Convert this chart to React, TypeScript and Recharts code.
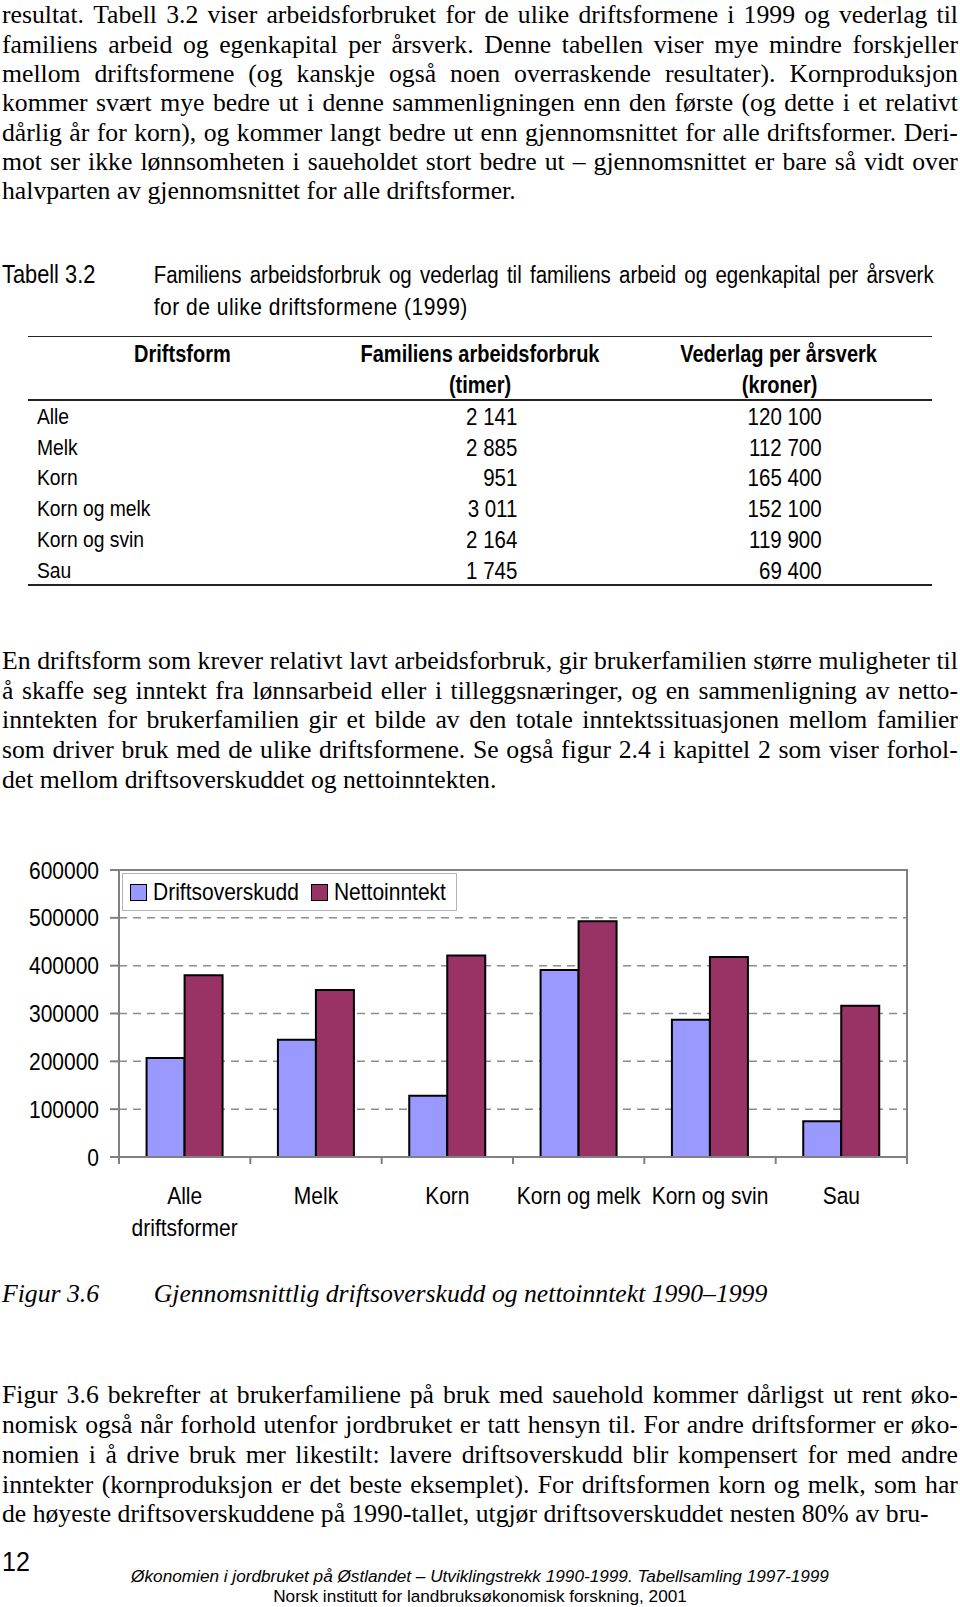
import React from 'react';
import { BarChart, Bar, XAxis, YAxis, CartesianGrid, Legend, ReferenceArea } from 'recharts';

// figure 3.6 data (kroner)
const categories = ['Alle driftsformer', 'Melk', 'Korn', 'Korn og melk', 'Korn og svin', 'Sau'];
const driftsoverskudd = [207000, 245000, 128000, 391000, 287000, 75000];
const nettoinntekt = [380000, 349000, 421000, 493000, 418000, 316000];
const yTicks = [0, 100000, 200000, 300000, 400000, 500000, 600000];

// tabell 3.2
const tableForms = ['Alle', 'Melk', 'Korn', 'Korn og melk', 'Korn og svin', 'Sau'];
const tableHours = ['2 141', '2 885', '951', '3 011', '2 164', '1 745'];
const tableKroner = ['120 100', '112 700', '165 400', '152 100', '119 900', '69 400'];

const chartData = categories.map((name, i) => ({
  name,
  Driftsoverskudd: driftsoverskudd[i],
  Nettoinntekt: nettoinntekt[i],
}));

const serif = '"Liberation Serif", "Times New Roman", serif';
const sans = '"Liberation Sans", Arial, sans-serif';
const STRETCH = 1.17;
const BODY = 25.7;

const CHART_W = 960;
const CHART_H = 420;
const M_LEFT = 9;
const Y_W = 110;
const M_RIGHT = 53;
const PLOT_W = CHART_W - M_LEFT - Y_W - M_RIGHT;
const BAND = PLOT_W / categories.length;

const para1 = [
  'resultat. Tabell 3.2 viser arbeidsforbruket for de ulike driftsformene i 1999 og vederlag til',
  'familiens arbeid og egenkapital per årsverk. Denne tabellen viser mye mindre forskjeller',
  'mellom driftsformene (og kanskje også noen overraskende resultater). Kornproduksjon',
  'kommer svært mye bedre ut i denne sammenligningen enn den første (og dette i et relativt',
  'dårlig år for korn), og kommer langt bedre ut enn gjennomsnittet for alle driftsformer. Deri-',
  'mot ser ikke lønnsomheten i saueholdet stort bedre ut – gjennomsnittet er bare så vidt over',
  'halvparten av gjennomsnittet for alle driftsformer.',
];
const para2 = [
  'En driftsform som krever relativt lavt arbeidsforbruk, gir brukerfamilien større muligheter til',
  'å skaffe seg inntekt fra lønnsarbeid eller i tilleggsnæringer, og en sammenligning av netto-',
  'inntekten for brukerfamilien gir et bilde av den totale inntektssituasjonen mellom familier',
  'som driver bruk med de ulike driftsformene. Se også figur 2.4 i kapittel 2 som viser forhol-',
  'det mellom driftsoverskuddet og nettoinntekten.',
];
const para3 = [
  'Figur 3.6 bekrefter at brukerfamiliene på bruk med sauehold kommer dårligst ut rent øko-',
  'nomisk også når forhold utenfor jordbruket er tatt hensyn til. For andre driftsformer er øko-',
  'nomien i å drive bruk mer likestilt: lavere driftsoverskudd blir kompensert for med andre',
  'inntekter (kornproduksjon er det beste eksemplet). For driftsformen korn og melk, som har',
  'de høyeste driftsoverskuddene på 1990-tallet, utgjør driftsoverskuddet nesten 80% av bru-',
];

let ctx: CanvasRenderingContext2D | null = null;
const measure = (s: string) => {
  if (!ctx) ctx = document.createElement('canvas').getContext('2d');
  if (!ctx) return s.length * 10.5;
  ctx.font = `21px ${sans}`;
  return ctx.measureText(s).width;
};

// greedy word wrap inside one category band
const wrap = (s: string, max: number) => {
  const out: string[] = [];
  let cur = '';
  s.split(' ').forEach((w) => {
    const next = cur ? cur + ' ' + w : w;
    if (cur && measure(next) > max) {
      out.push(cur);
      cur = w;
    } else cur = next;
  });
  if (cur) out.push(cur);
  return out;
};

const wordStyle: React.CSSProperties = { display: 'inline-block', height: 24, lineHeight: '24px' };

const Line = ({ y, text, justify, left = 2, width = 956, size = BODY, font = serif, italic = false, stretch = 1 }: any) => (
  <div
    style={{
      position: 'absolute',
      left,
      width,
      top: y - 12,
      height: 24,
      lineHeight: '24px',
      fontSize: size,
      fontFamily: font,
      fontStyle: italic ? 'italic' : 'normal',
      whiteSpace: 'nowrap',
      display: 'flex',
      justifyContent: justify ? 'space-between' : 'flex-start',
      transform: stretch !== 1 ? `scaleY(${stretch})` : undefined,
    }}
  >
    {justify ? (
      text.split(' ').map((w: string, i: number) => (
        <span key={i} style={wordStyle}>
          {w}
        </span>
      ))
    ) : (
      <span style={wordStyle}>{text}</span>
    )}
  </div>
);

const Paragraph = ({ lines, start, step = 29.7 }: any) => (
  <>
    {lines.map((t: string, i: number) => (
      <Line key={i} y={start + i * step} text={t} justify={i < lines.length - 1} />
    ))}
  </>
);

const SansText = ({ x, y, text, anchor = 'left', size = 20, bold = false, spacing = 0 }: any) => {
  const w = 600;
  const left = anchor === 'left' ? x : anchor === 'center' ? x - w / 2 : x - w;
  return (
    <div
      style={{
        position: 'absolute',
        left,
        width: w,
        top: y - 12,
        height: 24,
        lineHeight: '24px',
        fontSize: size,
        fontFamily: sans,
        fontWeight: bold ? 'bold' : 'normal',
        letterSpacing: spacing,
        textAlign: anchor as any,
        whiteSpace: 'nowrap',
        transform: `scaleY(${STRETCH})`,
      }}
    >
      {text}
    </div>
  );
};

const YTick = (props: any) => {
  const { x, y, payload } = props;
  return (
    <g transform={`translate(${x},${y}) scale(1,${STRETCH})`}>
      <text x={0} y={0} textAnchor="end" dominantBaseline="central" fontSize={21} fontFamily={sans} fill="#000">
        {payload.value}
      </text>
    </g>
  );
};

const XTick = (props: any) => {
  const { x, y, payload, index } = props;
  const lines = wrap(String(payload.value), BAND - 4);
  return (
    <g>
      <line x1={x - BAND / 2} x2={x - BAND / 2} y1={y} y2={y + 7} stroke="#808080" strokeWidth={2} />
      {index === categories.length - 1 && (
        <line x1={x + BAND / 2} x2={x + BAND / 2} y1={y} y2={y + 7} stroke="#808080" strokeWidth={2} />
      )}
      {lines.map((l, i) => (
        <g key={i} transform={`translate(${x},${y + 38 + i * 32.7}) scale(1,${STRETCH})`}>
          <text x={0} y={0} textAnchor="middle" dominantBaseline="central" fontSize={21} fontFamily={sans} fill="#000">
            {l}
          </text>
        </g>
      ))}
    </g>
  );
};

const LegendBox = (props: any) => {
  const { payload } = props;
  return (
    <div
      style={{
        boxSizing: 'border-box',
        width: 335,
        height: 38,
        border: '1.5px solid #b4b4b4',
        background: '#fff',
        display: 'flex',
        alignItems: 'center',
        paddingLeft: 7,
        fontFamily: sans,
        fontSize: 21,
        color: '#000',
      }}
    >
      {(payload || []).map((p: any, i: number) => (
        <div key={i} style={{ display: 'flex', alignItems: 'center', marginRight: 12 }}>
          <span
            style={{
              display: 'inline-block',
              width: 15,
              height: 15,
              background: p.color,
              border: '1.5px solid #000',
              marginRight: 6,
            }}
          />
          <span style={{ display: 'inline-block', transform: `scaleY(${STRETCH})` }}>{p.value}</span>
        </div>
      ))}
    </div>
  );
};

export default function App() {
  return (
    <div style={{ position: 'relative', width: 960, height: 1607, background: '#fff', overflow: 'hidden', color: '#000' }}>
      <style>{'body{margin:0}'}</style>

      <Paragraph lines={para1} start={15.3} step={29.3} />

      {/* Tabell 3.2 */}
      <SansText x={2} y={274.6} text="Tabell 3.2" size={21.8} />
      <div style={{ position: 'absolute', left: 153.7, top: 274.6 - 12, width: 780, height: 24, lineHeight: '24px', fontSize: 20.5, fontFamily: sans, display: 'flex', justifyContent: 'space-between', whiteSpace: 'nowrap', transform: `scaleY(${STRETCH})` }}>
        {'Familiens arbeidsforbruk og vederlag til familiens arbeid og egenkapital per årsverk'.split(' ').map((w, i) => (
          <span key={i}>{w}</span>
        ))}
      </div>
      <SansText x={153.7} y={307.4} text="for de ulike driftsformene (1999)" size={21} spacing={0.5} />

      <div style={{ position: 'absolute', left: 27.7, width: 904.3, top: 335.5, height: 0, borderTop: '1.5px solid #222' }} />
      <div style={{ position: 'absolute', left: 27.7, width: 904.3, top: 398.5, height: 0, borderTop: '2px solid #222' }} />
      <div style={{ position: 'absolute', left: 27.7, width: 904.3, top: 584, height: 0, borderTop: '2px solid #222' }} />

      <SansText x={182.4} y={353.5} text="Driftsform" anchor="center" bold />
      <SansText x={480} y={353.5} text="Familiens arbeidsforbruk" anchor="center" bold />
      <SansText x={480} y={385} text="(timer)" anchor="center" bold />
      <SansText x={778.6} y={353.5} text="Vederlag per årsverk" anchor="center" bold />
      <SansText x={779.6} y={385} text="(kroner)" anchor="center" bold />

      {tableForms.map((f, i) => (
        <React.Fragment key={f}>
          <SansText x={36.9} y={417 + i * 30.7} text={f} size={19.3} />
          <SansText x={517.4} y={417 + i * 30.7} text={tableHours[i]} anchor="right" size={20.5} />
          <SansText x={821.7} y={417 + i * 30.7} text={tableKroner[i]} anchor="right" size={20.5} />
        </React.Fragment>
      ))}

      <Paragraph lines={para2} start={660.8} />

      {/* Figur 3.6 */}
      <div style={{ position: 'absolute', left: 0, top: 840 }}>
        <BarChart
          width={CHART_W}
          height={CHART_H}
          data={chartData}
          margin={{ top: 30, right: M_RIGHT, bottom: 13, left: M_LEFT }}
          barCategoryGap="21%"
          barGap={0}
        >
          <CartesianGrid vertical={false} stroke="#8c8c8c" strokeDasharray="8 6" strokeWidth={1.5} />
          <ReferenceArea y1={0} y2={600000} fill="none" stroke="#808080" strokeWidth={2} ifOverflow="visible" />
          <XAxis
            dataKey="name"
            interval={0}
            tickLine={false}
            tickSize={0}
            tickMargin={0}
            height={90}
            axisLine={{ stroke: '#808080', strokeWidth: 2 }}
            tick={<XTick />}
          />
          <YAxis
            width={Y_W}
            domain={[0, 600000]}
            ticks={yTicks}
            interval={0}
            tickSize={9}
            tickMargin={11}
            tickLine={{ stroke: '#808080', strokeWidth: 2 }}
            axisLine={{ stroke: '#808080', strokeWidth: 2 }}
            tick={<YTick />}
          />
          <Legend
            layout="horizontal"
            verticalAlign="middle"
            align="center"
            content={<LegendBox />}
            wrapperStyle={{ top: 33, left: 122, width: 335, height: 38 }}
          />
          <Bar dataKey="Driftsoverskudd" fill="#9999ff" stroke="#000" strokeWidth={2} isAnimationActive={false} />
          <Bar dataKey="Nettoinntekt" fill="#993366" stroke="#000" strokeWidth={2} isAnimationActive={false} />
        </BarChart>
      </div>

      <Line y={1294} text="Figur 3.6" italic left={2} width={140} />
      <Line y={1294} text="Gjennomsnittlig driftsoverskudd og nettoinntekt 1990–1999" italic left={153.7} width={720} />

      <Paragraph lines={para3} start={1395.4} />

      {/* footer */}
      <Line y={1561} text="12" font={sans} size={25} left={2} width={60} stretch={1.12} />
      <div style={{ position: 'absolute', left: 0, width: 960, top: 1576 - 8, height: 16, lineHeight: '16px', fontSize: 17.2, fontFamily: sans, fontStyle: 'italic', textAlign: 'center', whiteSpace: 'nowrap' }}>
        Økonomien i jordbruket på Østlandet – Utviklingstrekk 1990-1999. Tabellsamling 1997-1999
      </div>
      <div style={{ position: 'absolute', left: 0, width: 960, top: 1596 - 8, height: 16, lineHeight: '16px', fontSize: 17.2, fontFamily: sans, textAlign: 'center', whiteSpace: 'nowrap' }}>
        Norsk institutt for landbruksøkonomisk forskning, 2001
      </div>
    </div>
  );
}
